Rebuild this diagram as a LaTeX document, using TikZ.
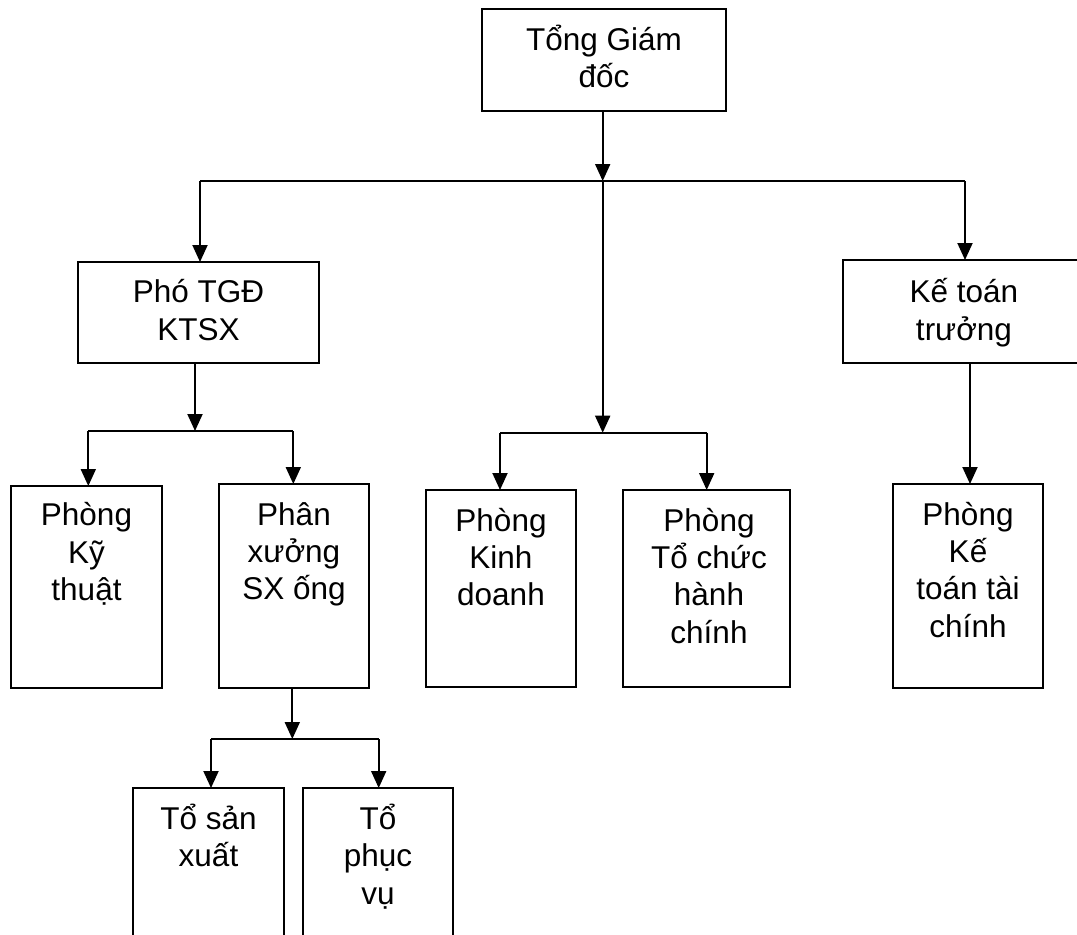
\documentclass[tikz,border=0pt]{standalone}
\usepackage{fontspec}
\setmainfont{Liberation Sans}
\usetikzlibrary{arrows.meta}
\begin{document}
\begin{tikzpicture}[x=1pt,y=-1pt,
  box/.style={draw=black,line width=2pt,inner sep=0pt,outer sep=0pt,fill=none},
  txt/.style={align=center,inner sep=0pt,font=\fontsize{31.5}{37.4}\selectfont},
  arr/.style={line width=1.9pt,-{Triangle[width=15pt,length=17pt]}},
  ln/.style={line width=1.9pt}]
\useasboundingbox (0,0) rectangle (1077,935);
% boxes
\node[box,minimum width=244pt,minimum height=102pt] (tgd) at (604,60) {};
\node[box,minimum width=241pt,minimum height=101pt] (pho) at (198.5,312.5) {};
\node[box,minimum width=242pt,minimum height=103pt] (kt) at (964,311.5) {};
\node[box,minimum width=151pt,minimum height=202pt] (ktv) at (86.5,587) {};
\node[box,minimum width=150pt,minimum height=204pt] (pxsx) at (294,586) {};
\node[box,minimum width=150pt,minimum height=197pt] (kd) at (501,588.5) {};
\node[box,minimum width=167pt,minimum height=197pt] (tc) at (706.5,588.5) {};
\node[box,minimum width=150pt,minimum height=204pt] (ktc) at (968,586) {};
\node[box,minimum width=151pt,minimum height=172pt] (tsx) at (208.5,874) {};
\node[box,minimum width=150pt,minimum height=172pt] (tpv) at (378,874) {};
% texts (anchor base = baseline of the last line)
\node[txt,anchor=base] (tgdT) at (604,87.4) {Tổng Giám\\đốc};
\node[txt,anchor=base] (phoT) at (198.5,340) {Phó TGĐ\\KTSX};
\node[txt,anchor=base] (ktT) at (964,340) {Kế toán\\trưởng};
\node[txt,anchor=base] (ktvT) at (86.5,600.5) {Phòng\\Kỹ\\thuật};
\node[txt,anchor=base] (pxsxT) at (294,599.8) {Phân\\xưởng\\SX ống};
\node[txt,anchor=base] (kdT) at (501,605.8) {Phòng\\Kinh\\doanh};
\node[txt,anchor=base] (tcT) at (709,643.2) {Phòng\\Tổ chức\\hành\\chính};
\node[txt,anchor=base] (ktcT) at (968,637.2) {Phòng\\Kế\\toán tài\\chính};
\node[txt,anchor=base] (tsxT) at (208.5,866.7) {Tổ sản\\xuất};
\node[txt,anchor=base] (tpvT) at (378,904.1) {Tổ\\phục\\vụ};
% bus coordinates
\coordinate (b1) at (602.7,181);
\coordinate (b1L) at (200,181);
\coordinate (b1R) at (965,181);
\coordinate (b2) at (602.7,432.7);
\coordinate (b2L) at (500,432.7);
\coordinate (b2R) at (706.7,432.7);
\coordinate (b3) at (195,431);
\coordinate (b3L) at (88.3,431);
\coordinate (b3R) at (293.3,431);
\coordinate (b4) at (292.3,739);
\coordinate (b4L) at (211,739);
\coordinate (b4R) at (378.7,739);
\coordinate (k1) at (970,0);
% connectors
\draw[arr] (b1 |- tgd.south) -- (b1);
\draw[ln] (b1L) -- (b1R);
\draw[arr] (b1L) -- (b1L |- pho.north);
\draw[arr] (b1R) -- (b1R |- kt.north);
\draw[arr] (b1) -- (b2);
\draw[ln] (b2L) -- (b2R);
\draw[arr] (b2L) -- (b2L |- kd.north);
\draw[arr] (b2R) -- (b2R |- tc.north);
\draw[arr] (b3 |- pho.south) -- (b3);
\draw[ln] (b3L) -- (b3R);
\draw[arr] (b3L) -- (b3L |- ktv.north);
\draw[arr] (b3R) -- (b3R |- pxsx.north);
\draw[arr] (k1 |- kt.south) -- (k1 |- ktc.north);
\draw[arr] (b4 |- pxsx.south) -- (b4);
\draw[ln] (b4L) -- (b4R);
\draw[arr] (b4L) -- (b4L |- tsx.north);
\draw[arr] (b4R) -- (b4R |- tpv.north);
\end{tikzpicture}
\end{document}
